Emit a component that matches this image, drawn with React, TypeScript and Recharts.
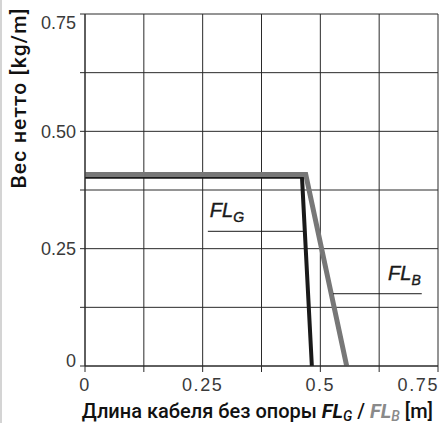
import { LineChart, Line, XAxis, YAxis, CartesianGrid, ReferenceLine } from 'recharts'

// curve FL_G (black) and FL_B (grey)
const fgX = [0, 0.461, 0.482]
const fgY = [0.403, 0.403, 0]
const fbX = [0, 0.469, 0.556]
const fbY = [0.408, 0.408, 0]

const gridTicks = [0, 0.125, 0.25, 0.375, 0.5, 0.625, 0.75]
const xTickLabels: Record<string, string> = { '0': '0', '0.25': '0.25', '0.5': '0.5', '0.75': '0.75' }
const yTickLabels: Record<string, string> = { '0': '0', '0.25': '0.25', '0.5': '0.50', '0.75': '0.75' }

// leader lines for the curve names
const leaderY = [0.287, 0.154]
const leaderX1 = [0.261, 0.527]
const leaderX2 = [0.467, 0.7155]
const leaderSub = ['G', 'B']

const fg = fgX.map((x, i) => ({ x, y: fgY[i] }))
const fb = fbX.map((x, i) => ({ x, y: fbY[i] }))

const FONT = '"Liberation Sans", Arial, sans-serif'
const TITLE_FONT = 'Roboto, "Liberation Sans", Arial, sans-serif'

function XTick(props: any) {
  const { x, y, payload } = props
  const label = xTickLabels[String(payload.value)]
  if (!label) return null
  const last = payload.value === 0.75
  return (
    <text
      x={last ? x + 1 : x}
      y={y + 17}
      textAnchor={last ? 'end' : 'middle'}
      fontFamily={FONT}
      fontSize={18}
      letterSpacing={1.6}
      fill="#3a3a3a"
    >
      {label}
    </text>
  )
}

function YTick(props: any) {
  const { x, y, payload } = props
  const label = yTickLabels[String(payload.value)]
  if (!label) return null
  let base = y + 6.5
  if (payload.value === 0.75) base = y + 15
  if (payload.value === 0) base = y + 1
  return (
    <text x={x - 2} y={base} textAnchor="end" fontFamily={FONT} fontSize={18} fill="#3a3a3a">
      {label}
    </text>
  )
}

function Annot({ viewBox, sub, end }: any) {
  if (!viewBox) return null
  const tx = end ? viewBox.x + viewBox.width - 1 : viewBox.x + 2
  const ty = viewBox.y - 14
  return (
    <text
      x={tx}
      y={ty}
      textAnchor={end ? 'end' : 'start'}
      fontFamily={FONT}
      fontStyle="italic"
      fontSize={20}
      stroke="#1a1a1a"
      strokeWidth={0.4}
      fill="#1a1a1a"
    >
      FL
      <tspan fontSize={14} dy={5}>
        {sub}
      </tspan>
    </text>
  )
}

function XTitle({ viewBox }: any) {
  if (!viewBox) return null
  return (
    <text
      x={viewBox.x + viewBox.width - 5}
      y={viewBox.y + 52}
      textAnchor="end"
      fontFamily={TITLE_FONT}
      fontWeight={500}
      fontSize={20}
      fill="#111"
    >
      Длина кабеля без опоры{' '}
      <tspan fontStyle="italic" fontWeight={700}>FL</tspan>
      <tspan fontStyle="italic" fontSize={14} dy={3}>G</tspan>
      <tspan dy={-3}> / </tspan>
      <tspan fontStyle="italic" fontWeight={700} fill="#8a8a8a">FL</tspan>
      <tspan fontStyle="italic" fill="#8a8a8a" fontSize={14} dy={3}>B</tspan>
      <tspan dy={-3}> [m]</tspan>
    </text>
  )
}

function YTitle() {
  return (
    <text
      x={26}
      y={98}
      transform="rotate(-90, 26, 98)"
      textAnchor="middle"
      fontFamily={TITLE_FONT}
      fontWeight={500}
      fontSize={21}
      letterSpacing={1.2}
      fill="#111"
    >
      Вес нетто [kg/m]
    </text>
  )
}

export default function App() {
  return (
    <div style={{ position: 'absolute', left: 0, top: 0, width: 439, height: 423, background: '#fff' }}>
      <div style={{ position: 'absolute', left: 0, top: 0, width: 2, height: 423, background: '#d4d4d4' }} />
      <LineChart width={439} height={423} margin={{ top: 14, right: 1, left: 0, bottom: 0 }}>
        <CartesianGrid stroke="#2a2a2a" strokeWidth={1} horizontalValues={gridTicks} verticalValues={gridTicks} />
        <XAxis
          dataKey="x"
          type="number"
          domain={[0, 0.75]}
          ticks={gridTicks}
          interval={0}
          height={57}
          tickSize={6}
          tickLine={{ stroke: '#2a2a2a' }}
          axisLine={{ stroke: '#2a2a2a' }}
          tick={<XTick />}
          allowDataOverflow
          label={{ content: (p: any) => <XTitle viewBox={p.viewBox} /> }}
        />
        <YAxis
          type="number"
          domain={[0, 0.75]}
          ticks={gridTicks}
          interval={0}
          width={85}
          tickSize={5}
          tickLine={{ stroke: '#2a2a2a' }}
          axisLine={{ stroke: '#2a2a2a' }}
          tick={<YTick />}
          allowDataOverflow
          label={{ content: () => <YTitle /> }}
        />
        <Line
          data={fg}
          dataKey="y"
          type="linear"
          stroke="#1a1a1a"
          strokeWidth={4}
          strokeLinejoin="miter"
          dot={false}
          activeDot={false}
          isAnimationActive={false}
        />
        <Line
          data={fb}
          dataKey="y"
          type="linear"
          stroke="#777"
          strokeWidth={5}
          strokeLinejoin="miter"
          dot={false}
          activeDot={false}
          isAnimationActive={false}
        />
        {leaderY.map((ly, i) => (
          <ReferenceLine
            key={i}
            segment={[
              { x: leaderX1[i], y: ly },
              { x: leaderX2[i], y: ly },
            ]}
            stroke="#1a1a1a"
            strokeWidth={1}
            label={{ content: (p: any) => <Annot viewBox={p.viewBox} sub={leaderSub[i]} end={i === 1} /> }}
          />
        ))}
      </LineChart>
    </div>
  )
}
